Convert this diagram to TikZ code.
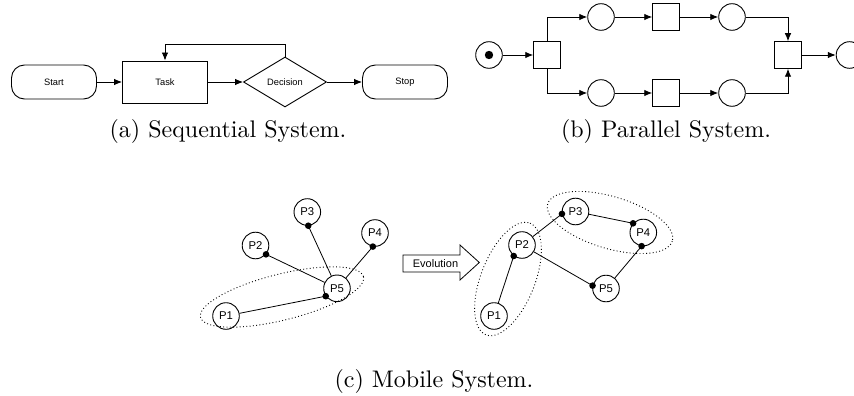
\documentclass[tikz,border=0pt]{standalone}
\usepackage{fontspec}
\newfontfamily\lsans{Liberation Sans}
\usetikzlibrary{shapes.geometric,arrows.meta,calc}
\begin{document}
\begin{tikzpicture}[x=1pt,y=-1pt,
  every node/.style={inner sep=0pt},
  ln/.style={line width=0.9pt},
  arr/.style={ln,-{Latex[length=8pt,width=6.5pt]}},
  fa/.style={font=\lsans\fontsize{9.3}{11}\selectfont},
  term/.style={draw,ln,fa,rectangle,rounded corners=13pt,minimum width=85pt,minimum height=34pt},
  taskbox/.style={draw,ln,fa,rectangle,minimum width=85pt,minimum height=42pt},
  decbox/.style={draw,ln,fa,diamond,minimum width=83pt,minimum height=50pt},
  place/.style={draw,ln,circle,minimum size=26.6pt},
  trans/.style={draw,ln,rectangle,minimum size=26.6pt},
  proc/.style={draw,ln,circle,minimum size=26.6pt,font=\lsans\fontsize{11.3}{13}\selectfont},
  link/.style={line width=0.8pt},
  grp/.style={line width=0.9pt,dash pattern=on 0.9pt off 2.4pt},
  capt/.style={scale=2.4,font=\fontsize{10}{12}\selectfont,anchor=base}
]
\useasboundingbox (0,0) rectangle (854,396);
\begin{scope}
\clip (0,0) rectangle (854,396);
% ---------- (a) ----------
\node[term] (start) at (54,82) {Start};
\node[taskbox] (task) at (165,82) {Task};
\node[decbox] (dec) at (285,82) {Decision};
\node[term] (stop) at (405,82) {Stop};
\draw[arr] (start) -- (task);
\draw[arr] (task) -- (dec);
\draw[arr] (dec) -- (stop);
\draw[arr] (dec.north) -- ++(0,-12) -| (task.north);
\node[capt] (capa) at (228,137) {(a) Sequential System.};
% ---------- (b) ----------
\node[place] (tok) at (489,55) {};
\fill (tok.center) circle (4.2);
\node[trans] (t1) at (547,55) {};
\node[place] (pa) at (601,17) {};
\node[trans] (ta) at (666,17) {};
\node[place] (pb) at (732,17) {};
\node[place] (pc) at (601,93) {};
\node[trans] (tb) at (666,93) {};
\node[place] (pd) at (732,93) {};
\node[trans] (t2) at (788,55) {};
\node[place] (pout) at (849.5,55) {};
\draw[arr] (tok) -- (t1);
\draw[arr] (t1.north) |- (pa);
\draw[arr] (pa) -- (ta);
\draw[arr] (ta) -- (pb);
\draw[arr] (pb) -| (t2.north);
\draw[arr] (t1.south) |- (pc);
\draw[arr] (pc) -- (tb);
\draw[arr] (tb) -- (pd);
\draw[arr] (pd) -| (t2.south);
\draw[arr] (t2) -- (pout);
\node[capt] (capb) at (666,137) {(b) Parallel System.};
% ---------- (c) left ----------
\node[proc] (l1) at (226,316) {P1};
\node[proc] (l2) at (255.5,245.5) {P2};
\node[proc] (l3) at (307.3,212) {P3};
\node[proc] (l4) at (375,233) {P4};
\node[proc] (l5) at (337,288.3) {P5};
\coordinate (dl3) at (l3.274);
\coordinate (dl4) at (l4.261);
\coordinate (dl2) at (l2.320);
\coordinate (dl5) at (l5.215);
\draw[link] (dl3) -- (l5);
\draw[link] (dl4) -- (l5);
\draw[link] (dl2) -- (l5);
\draw[link] (l1) -- (dl5);
\foreach \d in {dl2,dl3,dl4,dl5} \fill (\d) circle (3.3);
\draw[grp, rotate around={14:(282,297)}] (282,297) ellipse [x radius=84, y radius=23];
% ---------- arrow ----------
\draw[line width=0.8pt] (403,255) -- (460,255) -- (460,245) -- (479.3,262.5)
  -- (460,280) -- (460,272) -- (403,272) -- cycle;
\node[font=\lsans\fontsize{11}{13}\selectfont] (evo) at (435.5,263.5) {Evolution};
% ---------- (c) right ----------
\node[proc] (r1) at (494,316) {P1};
\node[proc] (r2) at (522,245) {P2};
\node[proc] (r3) at (575.5,211.5) {P3};
\node[proc] (r4) at (643.3,232.5) {P4};
\node[proc] (r5) at (606,288.5) {P5};
\coordinate (dr2) at (r2.233);
\coordinate (dr3) at (r3.190);
\coordinate (dr4a) at (r4.138);
\coordinate (dr4b) at (r4.263);
\coordinate (dr5) at (r5.168);
\draw[link] (r1) -- (dr2);
\draw[link] (r2) -- (dr3);
\draw[link] (r3) -- (dr4a);
\draw[link] (r2) -- (dr5);
\draw[link] (r5) -- (dr4b);
\foreach \d in {dr2,dr3,dr4a,dr4b,dr5} \fill (\d) circle (3.3);
\draw[grp, rotate around={68.5:(508,279)}] (508,279) ellipse [x radius=60, y radius=27];
\draw[grp, rotate around={-16.6:(610,222.5)}] (610,222.5) ellipse [x radius=65, y radius=26];
\node[capt] (capc) at (434,387) {(c) Mobile System.};
\end{scope}
\end{tikzpicture}
\end{document}
